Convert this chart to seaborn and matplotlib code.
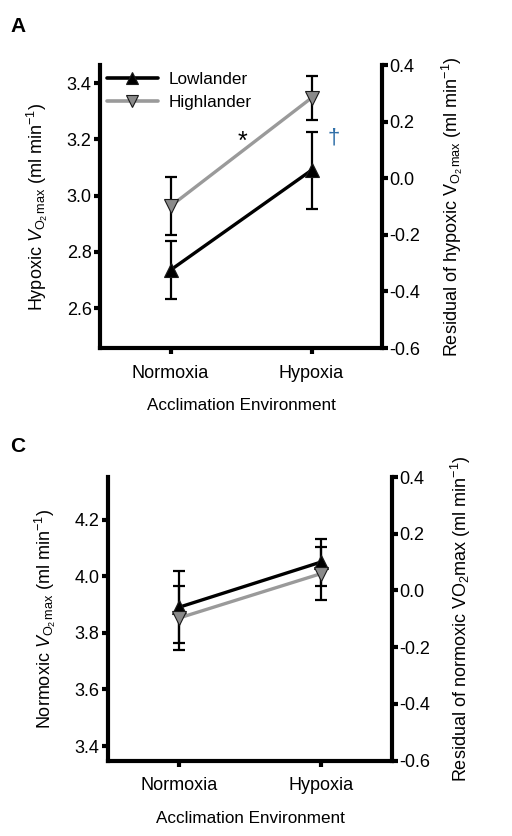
import matplotlib
matplotlib.use("Agg")
import matplotlib.pyplot as plt
import seaborn as sns
import pandas as pd
from matplotlib.lines import Line2D

sns.set_theme(style="white")
plt.rcParams['font.family'] = ['Liberation Sans', 'DejaVu Sans']
plt.rcParams['mathtext.fontset'] = 'custom'
plt.rcParams['mathtext.rm'] = 'Liberation Sans'
plt.rcParams['mathtext.it'] = 'Liberation Sans:italic'
plt.rcParams['mathtext.bf'] = 'Liberation Sans:bold'
plt.rcParams['text.color'] = 'black'
plt.rcParams['axes.labelcolor'] = 'black'
plt.rcParams['xtick.color'] = 'black'
plt.rcParams['ytick.color'] = 'black'

environments = ["Normoxia", "Hypoxia"]
groups = ["Lowlander", "Highlander"]

# Panel A: hypoxic VO2max
a_low = [2.735, 3.09]
a_low_err = [0.103, 0.137]
a_high = [2.962, 3.347]
a_high_err = [0.103, 0.077]

# Panel C: normoxic VO2max
c_low = [3.891, 4.051]
c_low_err = [0.127, 0.083]
c_high = [3.853, 4.010]
c_high_err = [0.112, 0.093]

right_ticks = [-0.6, -0.4, -0.2, 0.0, 0.2, 0.4]
right_ticklabels = ["-0.6", "-0.4", "-0.2", "0.0", "0.2", "0.4"]

colors = {"Lowlander": "black", "Highlander": "#9a9a9a"}
markers = {"Lowlander": "^", "Highlander": "v"}
mfc = {"Lowlander": "black", "Highlander": "#8a8a8a"}

fig = plt.figure(figsize=(5.12, 8.36), dpi=100)


def make_df(low, low_err, high, high_err):
    rows = []
    for i, env in enumerate(environments):
        rows.append({"env": env, "group": "Lowlander", "val": low[i], "err": low_err[i]})
        rows.append({"env": env, "group": "Highlander", "val": high[i], "err": high_err[i]})
    return pd.DataFrame(rows)


def draw_panel(rect, df, ylim, yticks, ylabel, rlabel, legend=False):
    ax = fig.add_axes(rect)
    for g in groups:
        sub = df[df.group == g]
        ax.errorbar(sub.env, sub.val, yerr=sub.err, fmt="none", ecolor="black",
                    elinewidth=1.6, capsize=4.5, capthick=1.6, zorder=2)
    for g in groups:
        sub = df[df.group == g]
        sns.lineplot(data=sub, x="env", y="val", ax=ax, color=colors[g], linewidth=2.4,
                     marker=markers[g], markersize=9.5, markerfacecolor=mfc[g],
                     markeredgecolor="#1a1a1a", markeredgewidth=0.8, zorder=3,
                     legend=False)
    ax.set_xlim(-0.5, 1.5)
    ax.set_ylim(*ylim)
    ax.set_yticks(yticks)
    ax.set_yticklabels([f"{t:.1f}" for t in yticks])
    for s in ["top", "right"]:
        ax.spines[s].set_visible(False)
    for s in ["left", "bottom"]:
        ax.spines[s].set_linewidth(3)
        ax.spines[s].set_color("black")
    ax.tick_params(axis="both", which="major", direction="out", length=4, width=3,
                   colors="black", labelsize=13, left=True, bottom=True)
    ax.tick_params(axis="x", pad=8)
    ax.tick_params(axis="y", pad=2)
    ax.set_xlabel("Acclimation Environment", fontsize=12.3, labelpad=12)
    ax.set_ylabel(ylabel, fontsize=13, labelpad=12)
    ax.grid(False)

    ax2 = ax.twinx()
    ax2.set_ylim(-0.6, 0.4)
    ax2.set_yticks(right_ticks)
    ax2.set_yticklabels(right_ticklabels)
    for s in ["top", "left", "bottom"]:
        ax2.spines[s].set_visible(False)
    ax2.spines["right"].set_linewidth(3)
    ax2.spines["right"].set_color("black")
    ax2.tick_params(axis="y", direction="out", length=4, width=3, colors="black",
                    labelsize=13, right=True, pad=1)
    ax2.set_ylabel(rlabel, fontsize=13, labelpad=14)
    ax2.grid(False)

    if legend:
        handles = [Line2D([0], [0], color=colors[g], lw=2.6, marker=markers[g],
                          markersize=8, markerfacecolor=mfc[g], markeredgecolor="#1a1a1a",
                          markeredgewidth=0.8) for g in groups]
        ax.legend(handles, groups, loc="upper left", frameon=False, fontsize=12.3,
                  handlelength=3.0, handletextpad=0.6, borderaxespad=0.0,
                  bbox_to_anchor=(0.0, 0.998), labelspacing=0.45)
    return ax, ax2


dfA = make_df(a_low, a_low_err, a_high, a_high_err)
axA, axA2 = draw_panel(
    [100 / 512, 1 - 348 / 836, 282 / 512, 283 / 836], dfA, (2.458, 3.464),
    [2.6, 2.8, 3.0, 3.2, 3.4],
    r"Hypoxic $\mathit{V}_{\mathrm{O_2\,max}}$ (ml min$^{\mathrm{-1}}$)",
    r"Residual of hypoxic V$_{\mathrm{O_2\,max}}$ (ml min$^{\mathrm{-1}}$)",
    legend=True)
axA.text(0.51, 3.19, "*", fontsize=18, ha="center", va="center", color="black")
axA.text(1.16, 3.205, "\u2020", fontsize=16, ha="center", va="center", color="#2f6fa8")

dfC = make_df(c_low, c_low_err, c_high, c_high_err)
axC, axC2 = draw_panel(
    [108 / 512, 1 - 760.7 / 836, 284 / 512, 283.7 / 836], dfC, (3.348, 4.352),
    [3.4, 3.6, 3.8, 4.0, 4.2],
    r"Normoxic $\mathit{V}_{\mathrm{O_2\,max}}$ (ml min$^{\mathrm{-1}}$)",
    r"Residual of normoxic VO$_{\mathrm{2}}$max (ml min$^{\mathrm{-1}}$)")

fig.text(10 / 512, 1 - 27 / 836, "A", fontsize=15, fontweight="bold", va="center", ha="left")
fig.text(10 / 512, 1 - 447 / 836, "C", fontsize=15, fontweight="bold", va="center", ha="left")

fig.savefig("out.png", dpi=100)
